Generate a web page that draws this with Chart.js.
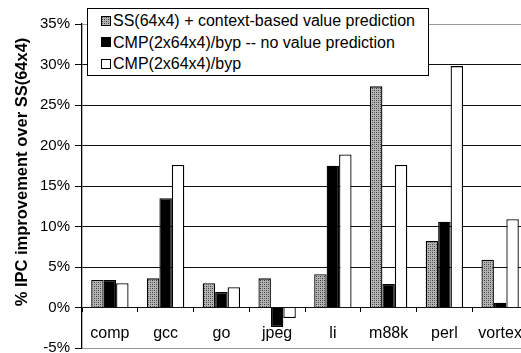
<!DOCTYPE html>
<html>
<head>
<meta charset="utf-8">
<script src="https://cdn.jsdelivr.net/npm/chart.js@4.4.0/dist/chart.umd.min.js"></script>
<style>
  html, body { margin: 0; padding: 0; background: #fff; overflow: hidden; }
  #wrap { position: relative; width: 528px; height: 353px; }
  #legend {
    position: absolute; left: 87px; top: 8px; width: 340px; height: 65px;
    border: 1px solid #000; background: #fff; padding-top: 1px; box-sizing: content-box;
    font: 16px 'Liberation Sans', Arial, sans-serif; color: #000;
  }
  #legend .row { height: 21.5px; line-height: 21.5px; padding-left: 13px; display: flex; align-items: center; white-space: nowrap; }
  #legend .sw { width: 8px; height: 8px; border: 1px solid #000; margin-right: 2px; flex: none; }
</style>
</head>
<body>
<div id="wrap">
  <canvas id="chart"></canvas>
  <div id="legend"></div>
</div>
<script>
/* ── Data ─────────────────────────────────────────────── */
const categories = ['comp', 'gcc', 'go', 'jpeg', 'li', 'm88k', 'perl', 'vortex'];
const seriesLabels = [
  'SS(64x4) + context-based value prediction',
  'CMP(2x64x4)/byp -- no value prediction',
  'CMP(2x64x4)/byp'
];
const ssValuePred = [3.4, 3.6, 3.0, 3.6, 4.1, 27.3, 8.2, 5.9];
const cmpNoValuePred = [3.4, 13.5, 1.9, -2.4, 17.5, 2.9, 10.6, 0.6];
const cmpByp = [3.0, 17.6, 2.5, -1.3, 18.9, 17.6, 29.8, 10.9];
const yTicks = [-5, 0, 5, 10, 15, 20, 25, 30, 35];
const yTitle = '% IPC improvement over SS(64x4)';

/* ── Stipple pattern for the grey bars ────────────────── */
function makeStipple() {
  const c = document.createElement('canvas');
  c.width = 4; c.height = 4;
  const g = c.getContext('2d');
  g.fillStyle = '#b4b4b4';
  g.fillRect(0, 0, 4, 4);
  g.fillStyle = '#3a3a3a';
  g.fillRect(0, 0, 1, 1);
  g.fillRect(2, 2, 1, 1);
  g.fillStyle = '#6a6a6a';
  g.fillRect(2, 0, 1, 1);
  g.fillRect(0, 2, 1, 1);
  return c;
}
const stippleCanvas = makeStipple();
const stipple = document.getElementById('chart').getContext('2d').createPattern(stippleCanvas, 'repeat');
const fills = [stipple, '#000', '#fff'];

/* ── Legend (html, sits inside the plot) ──────────────── */
const legendEl = document.getElementById('legend');
seriesLabels.forEach((label, i) => {
  const row = document.createElement('div');
  row.className = 'row';
  const sw = document.createElement('span');
  sw.className = 'sw';
  if (i === 0) sw.style.background = `url(${stippleCanvas.toDataURL()})`;
  else sw.style.background = fills[i];
  row.appendChild(sw);
  row.appendChild(document.createTextNode(label));
  legendEl.appendChild(row);
});

/* ── Y title drawn by hand so it can sit off-centre ───── */
const yTitlePlugin = {
  id: 'yTitle',
  afterDraw(chart) {
    const ctx = chart.ctx;
    ctx.save();
    ctx.translate(22, 172);
    ctx.rotate(-Math.PI / 2);
    ctx.font = "bold 16.5px 'Liberation Sans', Arial, sans-serif";
    ctx.fillStyle = '#000';
    ctx.textAlign = 'center';
    ctx.textBaseline = 'middle';
    ctx.fillText(yTitle, 0, 0);
    ctx.restore();
  }
};

const font = { family: "'Liberation Sans', Arial, sans-serif", size: 15 };

new Chart(document.getElementById('chart'), {
  type: 'bar',
  data: {
    labels: categories,
    datasets: [ssValuePred, cmpNoValuePred, cmpByp].map((data, i) => ({
      label: seriesLabels[i],
      data,
      backgroundColor: fills[i],
      borderColor: '#000',
      borderWidth: 1.3,
      categoryPercentage: 0.67,
      barPercentage: 1.0
    }))
  },
  options: {
    responsive: true,
    maintainAspectRatio: false,
    animation: false,
    layout: { padding: { top: 24, bottom: 5, left: 0, right: 0 } },
    plugins: { legend: { display: false }, tooltip: { enabled: false } },
    scales: {
      x: {
        position: { y: 0 },
        grid: { drawOnChartArea: false, offset: true, tickLength: 4, color: '#000' },
        border: { display: false },
        ticks: { font: { ...font, size: 16 }, color: '#000', padding: 12, maxRotation: 0 },
        afterFit: s => { s.paddingLeft = 0; s.paddingRight = 0; }
      },
      y: {
        min: -5,
        max: 35,
        afterBuildTicks: s => { s.ticks = yTicks.map(v => ({ value: v })); },
        afterFit: s => { s.width = 82; s.paddingTop = 0; s.paddingBottom = 0; },
        grid: {
          color: c => (c.tick && (c.tick.value === 35 || c.tick.value === -5)) ? '#999' : '#111',
          tickColor: '#000',
          tickLength: 7,
          lineWidth: 1
        },
        border: { display: true, color: '#000', width: 1.3 },
        ticks: { font, color: '#000', padding: 5, callback: v => v + '%' }
      }
    }
  },
  plugins: [yTitlePlugin]
});
</script>
</body>
</html>
